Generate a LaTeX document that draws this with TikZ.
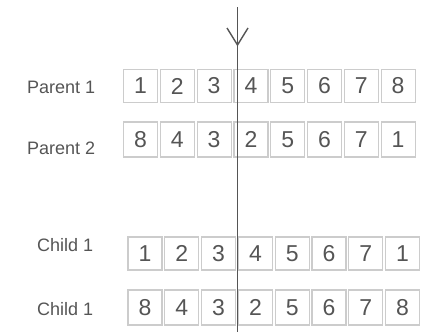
\documentclass[tikz,border=0pt]{standalone}
\usepackage{fontspec}
\setmainfont{Liberation Sans}
\definecolor{boxline}{HTML}{CCCCCC}
\definecolor{txt}{HTML}{555555}
\definecolor{cut}{HTML}{555555}
\begin{document}
\begin{tikzpicture}[x=1pt,y=-1pt,
  cell/.style={draw=boxline,line width=1.2pt,minimum width=34pt,minimum height=33pt,inner sep=0pt,
    font=\fontsize{23}{23}\selectfont,text=txt,anchor=center},
  rowlabel/.style={anchor=west,inner sep=0pt,font=\fontsize{18}{18}\selectfont,text=txt}]
\useasboundingbox (0,0) rectangle (422,332);
\fill[white] (0,0) rectangle (422,332);
% labels
\node[rowlabel] (lp1) at (27,87) {Parent 1};
\node[rowlabel] (lp2) at (27,148) {Parent 2};
\node[rowlabel] (lc1) at (37,245) {Child 1};
\node[rowlabel] (lc2) at (37,309) {Child 1};
% rows
\foreach \v [count=\i] in {1,2,3,4,5,6,7,8}
  \node[cell] (pa\i) at ({140.5+(\i-1)*36.8},86) {\v};
\foreach \v [count=\i] in {8,4,3,2,5,6,7,1}
  \node[cell,minimum height=35pt] (pb\i) at ({140.5+(\i-1)*36.8},139.5) {\v};
\foreach \v [count=\i] in {1,2,3,4,5,6,7,1}
  \node[cell] (ca\i) at ({145+(\i-1)*36.8},253.5) {\v};
\foreach \v [count=\i] in {8,4,3,2,5,6,7,8}
  \node[cell,minimum height=35pt] (cb\i) at ({145+(\i-1)*36.8},307.5) {\v};
% cut line with arrow head
\coordinate (top) at (237.5,7);
\coordinate (bot) at (237.5,332);
\coordinate (tip) at (237.5,45);
\coordinate (wl) at (227,28);
\coordinate (wr) at (248,28);
\draw[cut,line width=1.8pt] (top) -- (bot);
\draw[cut,line width=1.4pt,line join=miter] (wl) -- (tip) -- (wr);
\end{tikzpicture}
\end{document}
